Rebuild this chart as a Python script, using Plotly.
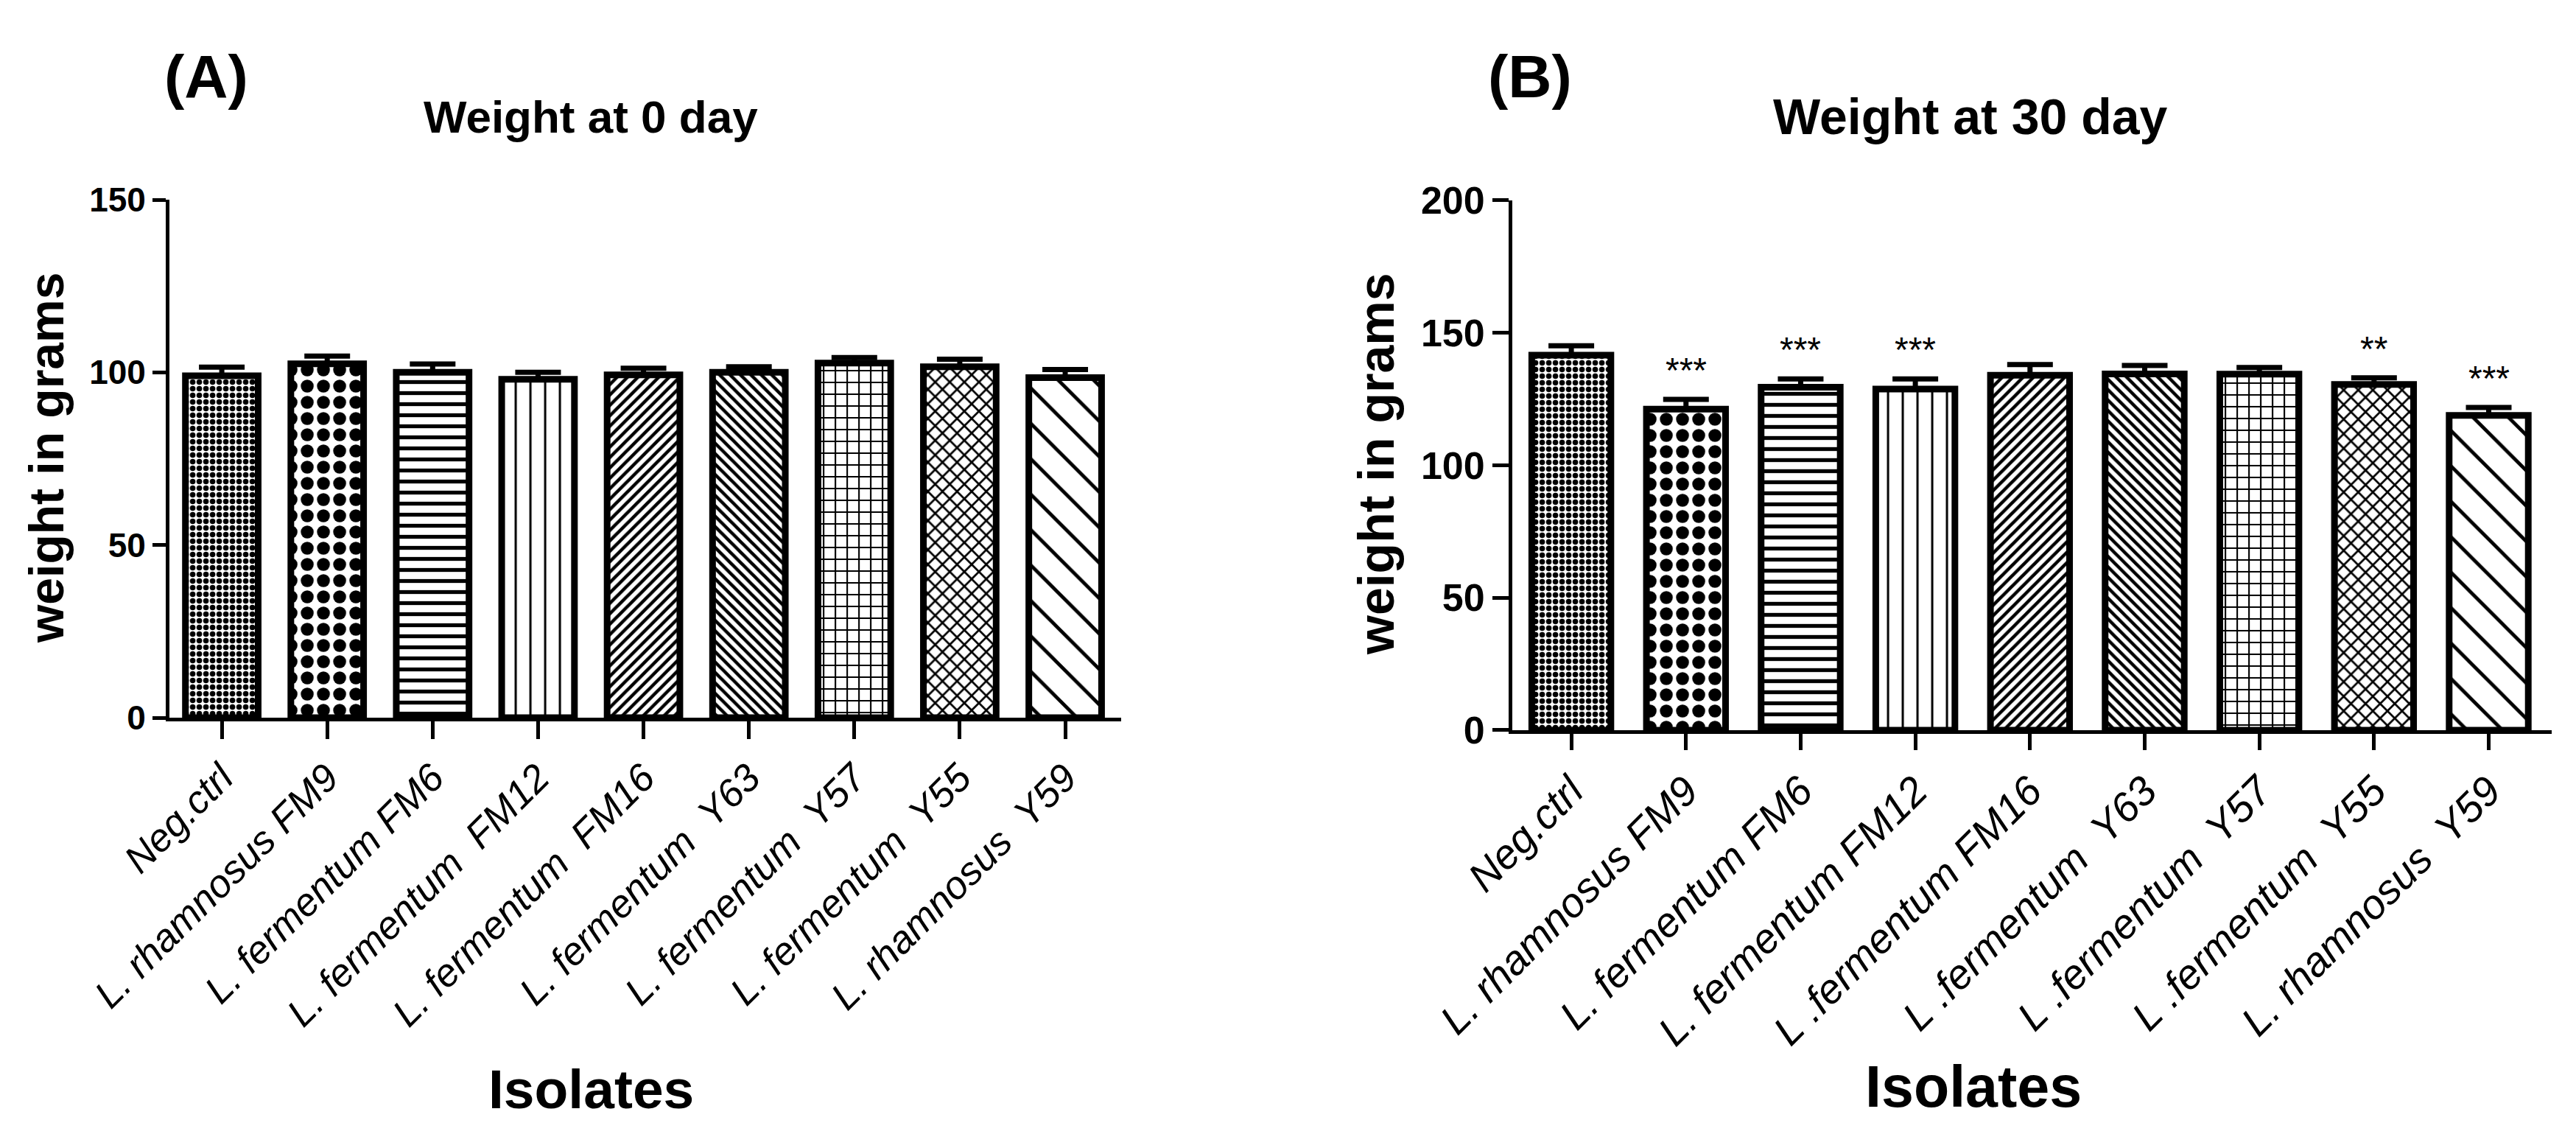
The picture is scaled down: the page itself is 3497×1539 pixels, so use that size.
import plotly.graph_objects as go

# ---------------- data ----------------
labels_a = ["Neg.ctrl", "L. rhamnosus FM9", "L. fermentum FM6", "L. fermentum\u00a0\u00a0FM12",
            "L. fermentum\u00a0\u00a0FM16", "L. fermentum\u00a0\u00a0Y63", "L. fermentum\u00a0\u00a0Y57",
            "L. fermentum\u00a0\u00a0Y55", "L. rhamnosus\u00a0\u00a0Y59"]
labels_b = ["Neg.ctrl", "L. rhamnosus FM9", "L. fermentum FM6", "L. fermentum FM12",
            "L .fermentum FM16", "L .fermentum\u00a0\u00a0Y63", "L .fermentum\u00a0\u00a0Y57",
            "L .fermentum\u00a0\u00a0Y55", "L. rhamnosus\u00a0\u00a0Y59"]

weight_day0 = [99.0, 102.5, 100.0, 98.0, 99.3, 100.0, 102.7, 101.6, 98.5]
sem_day0 = [2.5, 2.2, 2.4, 2.0, 1.9, 1.6, 1.6, 2.2, 2.3]

weight_day30 = [141.6, 121.2, 129.5, 128.8, 134.0, 134.5, 134.4, 130.5, 118.8]
sem_day30 = [3.5, 3.7, 3.1, 3.8, 4.0, 3.2, 2.5, 2.5, 3.0]
signif_day30 = ["", "***", "***", "***", "", "", "", "**", "***"]

yticks_a = [0, 50, 100, 150]
yticks_b = [0, 50, 100, 150, 200]

# pattern per bar (shape, size, solidity)
pat_shapes = [".", ".", "-", "|", "/", "\\", "+", "x", "\\"]
pat_sizes = [9, 22, 15, 20, 10, 10, 16, 14, 34]
pat_solid = [0.55, 0.5, 0.35, 0.15, 0.45, 0.45, 0.25, 0.35, 0.14]

FONT = "Liberation Sans, Arial, sans-serif"

fig = go.Figure()

def add_bars(y, sem, xa, ya):
    x = list(range(len(y)))
    fig.add_trace(go.Bar(
        x=x, y=y, xaxis=xa, yaxis=ya,
        marker=dict(color="white",
                    line=dict(color="black", width=9),
                    pattern=dict(shape=pat_shapes, size=pat_sizes, solidity=pat_solid,
                                 fgcolor="black", bgcolor="white", fillmode="replace")),
        error_y=dict(type="data", symmetric=False, array=sem, arrayminus=[0] * len(sem),
                     color="black", thickness=7, width=31),
        showlegend=False, hoverinfo="skip"))

add_bars(weight_day0, sem_day0, "x", "y")
add_bars(weight_day30, sem_day30, "x2", "y2")

axis_common = dict(showline=True, linewidth=5, linecolor="black", showgrid=False,
                   zeroline=False, ticks="outside", tickwidth=5, tickcolor="black",
                   automargin=False)

fig.update_layout(
    width=3497, height=1539,
    margin=dict(l=0, r=0, t=0, b=0, autoexpand=False),
    paper_bgcolor="white", plot_bgcolor="white",
    bargap=0.31,
    xaxis=dict(axis_common, domain=[0.0658, 0.4352], range=[-0.496, 8.53], anchor="y",
               tickmode="array", tickvals=list(range(9)), ticktext=labels_a,
               tickangle=-45, ticklen=24,
               tickfont=dict(family=FONT, size=53, color="black", style="italic")),
    yaxis=dict(axis_common, domain=[0.3671, 0.8239], range=[0, 150], tickvals=yticks_a,
               anchor="x", ticklen=18,
               tickfont=dict(family=FONT, size=46, color="black", weight="bold")),
    xaxis2=dict(axis_common, domain=[0.5871, 0.9906], range=[-0.514, 8.55], anchor="y2",
                tickmode="array", tickvals=list(range(9)), ticktext=labels_b,
                tickangle=-45, ticklen=22,
                tickfont=dict(family=FONT, size=56, color="black", style="italic")),
    yaxis2=dict(axis_common, domain=[0.3561, 0.8233], range=[0, 200], tickvals=yticks_b,
                anchor="x2", ticklen=22,
                tickfont=dict(family=FONT, size=52, color="black", weight="bold")),
)

ann = []
def pa(text, x, y, size, angle=0, weight="bold"):
    ann.append(dict(text=text, x=x, y=y, xref="paper", yref="paper", showarrow=False,
                    xanchor="center", yanchor="middle", textangle=angle,
                    font=dict(family=FONT, size=size, color="black", weight=weight)))

pa("(A)", 280 / 3497, 1 - 103 / 1539, 82)
pa("(B)", 2077 / 3497, 1 - 103 / 1539, 82)
pa("Weight at 0 day", 802 / 3497, 1 - 158 / 1539, 62)
pa("Weight at 30 day", 2675 / 3497, 1 - 158 / 1539, 68)
pa("weight in grams", 63 / 3497, 1 - 622 / 1539, 66, angle=-90)
pa("weight in grams", 1868 / 3497, 1 - 630 / 1539, 68, angle=-90)
pa("Isolates", 802 / 3497, 1 - 1478 / 1539, 75)
pa("Isolates", 2679 / 3497, 1 - 1474 / 1539, 79)

for i, s in enumerate(signif_day30):
    if s:
        ann.append(dict(text=s, x=i, y=weight_day30[i] + sem_day30[i] + 3, xref="x2", yref="y2",
                        showarrow=False, xanchor="center", yanchor="bottom",
                        font=dict(family=FONT, size=48, color="black")))

fig.update_layout(annotations=ann)
fig.write_html("out.html")
